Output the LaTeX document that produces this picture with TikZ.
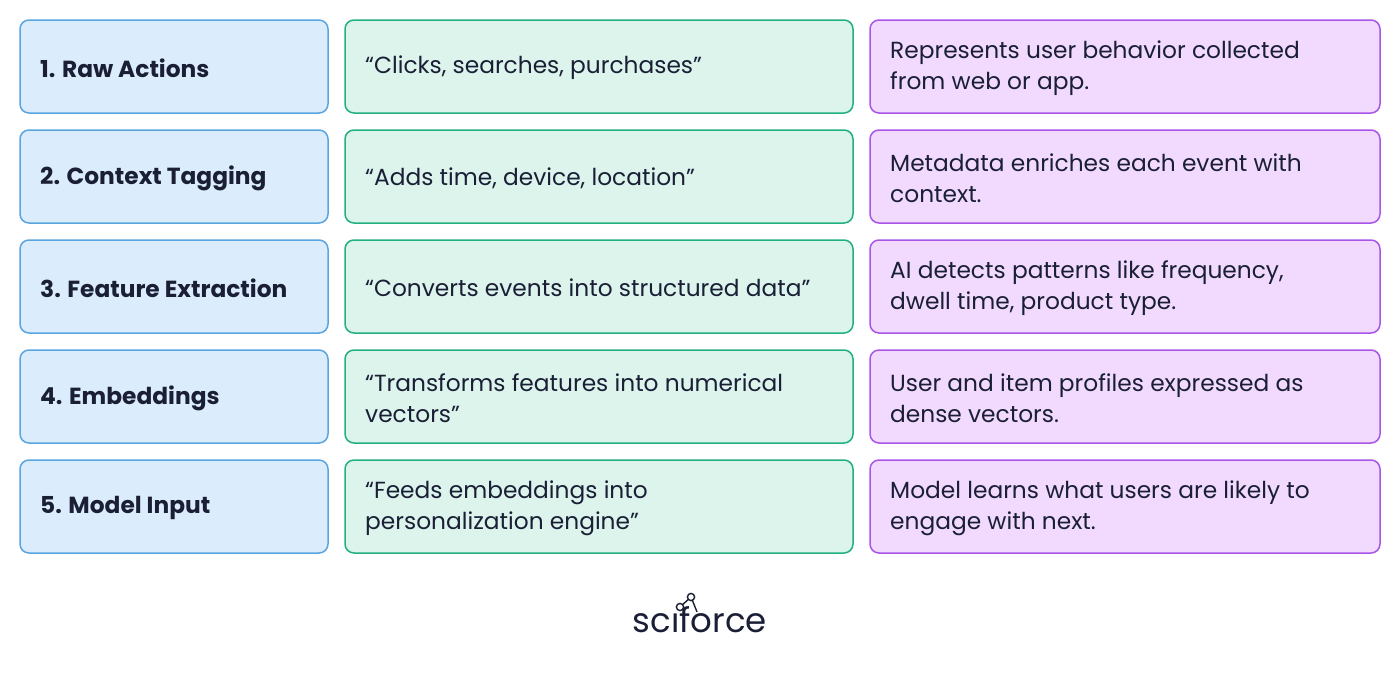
\documentclass[tikz,border=0pt]{standalone}
\usepackage{fontspec}
\setmainfont{Poppins}
\begin{document}
\begin{tikzpicture}[x=1pt,y=-1pt,
 box/.style={rounded corners=9pt,line width=1.5pt},
 b1/.style={box,draw=c1d,fill=c1f},
 b2/.style={box,draw=c2d,fill=c2f},
 b3/.style={box,draw=c3d,fill=c3f},
 t/.style={anchor=west,align=left,font=\fontsize{23.3}{31}\selectfont,text=ink,inner sep=0pt},
 tb/.style={t,font=\fontsize{23.3}{31}\selectfont\bfseries}]
\definecolor{c1d}{HTML}{5AA5E0}\definecolor{c1f}{HTML}{DBEDFD}
\definecolor{c2d}{HTML}{22B07D}\definecolor{c2f}{HTML}{DCF4EC}
\definecolor{c3d}{HTML}{A855E8}\definecolor{c3f}{HTML}{F1DAFD}
\definecolor{ink}{HTML}{1A1F36}
\useasboundingbox[fill=white] (0,0) rectangle (1400,673);
\foreach \i/\a/\b/\c in {
 0/{1. Raw Actions}/{“Clicks, searches, purchases”}/{Represents user behavior collected\\from web or app.},
 1/{2. Context Tagging}/{“Adds time, device, location”}/{Metadata enriches each event with\\context.},
 2/{3. Feature Extraction}/{“Converts events into structured data”}/{AI detects patterns like frequency,\\dwell time, product type.},
 3/{4. Embeddings}/{“Transforms features into numerical\\vectors”}/{User and item profiles expressed as\\dense vectors.},
 4/{5. Model Input}/{“Feeds embeddings into\\personalization engine”}/{Model learns what users are likely to\\engage with next.}}{
 \pgfmathsetmacro\y{20+110*\i}
 \draw[b1] (20,\y) rectangle (328,\y+93);
 \draw[b2] (345,\y) rectangle (853,\y+93);
 \draw[b3] (870,\y) rectangle (1380,\y+93);
 \node[tb] (a\i) at (40,\y+48) {\a};
 \node[t] (b\i) at (365,\y+48) {\b};
 \node[t] (c\i) at (890,\y+48) {\c};
}
\node[font=\fontsize{34}{34}\selectfont,text=ink,inner sep=0pt] (logo) at (700,620) {sc\char"0131 force};
\draw[ink,line width=1.4pt] (680,607) -- (691,597) -- (697,612);
\fill[white,draw=ink,line width=1.4pt] (680,607) circle (3.6) (691,597) circle (3.6);
\end{tikzpicture}
\end{document}
